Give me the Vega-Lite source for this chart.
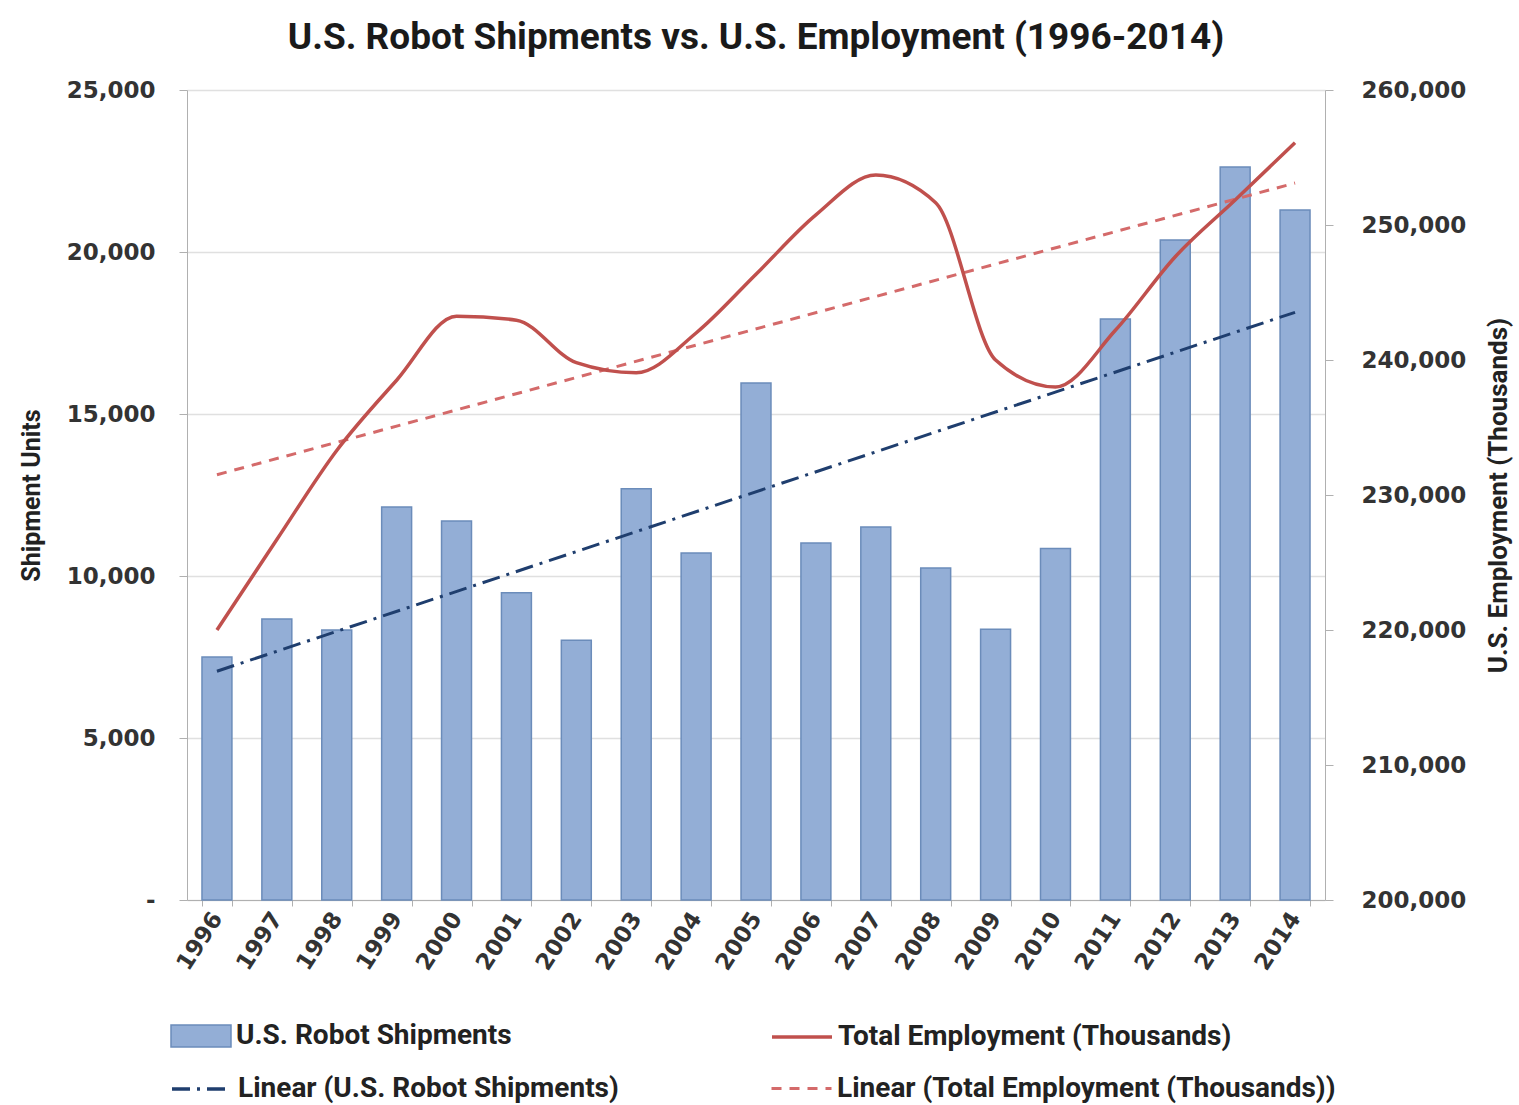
{
  "$schema": "https://vega.github.io/schema/vega-lite/v6.json",
  "width": 1138,
  "height": 810,
  "autosize": {"type": "none"},
  "padding": {"left": 187, "top": 90, "right": 194, "bottom": 205},
  "background": "white",
  "title": {
    "text": "U.S. Robot Shipments vs. U.S. Employment (1996-2014)",
    "font": "Roboto",
    "fontSize": 37,
    "fontWeight": "bold",
    "color": "#1a1a1a",
    "anchor": "middle",
    "offset": 22
  },
  "data": {
    "values": [
      {"year": 1996, "shipments": 7500, "employment": 220000},
      {"year": 1997, "shipments": 8670, "employment": 226700},
      {"year": 1998, "shipments": 8330, "employment": 233300},
      {"year": 1999, "shipments": 12130, "employment": 238500},
      {"year": 2000, "shipments": 11700, "employment": 243250},
      {"year": 2001, "shipments": 9480, "employment": 242950},
      {"year": 2002, "shipments": 8020, "employment": 239800},
      {"year": 2003, "shipments": 12690, "employment": 239050},
      {"year": 2004, "shipments": 10710, "employment": 242000},
      {"year": 2005, "shipments": 15960, "employment": 246350},
      {"year": 2006, "shipments": 11020, "employment": 250750},
      {"year": 2007, "shipments": 11510, "employment": 253700},
      {"year": 2008, "shipments": 10250, "employment": 251650},
      {"year": 2009, "shipments": 8360, "employment": 240000},
      {"year": 2010, "shipments": 10850, "employment": 238000},
      {"year": 2011, "shipments": 17930, "employment": 242200},
      {"year": 2012, "shipments": 20370, "employment": 247650},
      {"year": 2013, "shipments": 22620, "employment": 251850},
      {"year": 2014, "shipments": 21300, "employment": 256100}
    ]
  },
  "encoding": {
    "x": {
      "field": "year",
      "type": "ordinal",
      "scale": {"paddingInner": 0.5, "paddingOuter": 0.25},
      "axis": {
        "title": null,
        "labelAngle": -57,
        "labelAlign": "right",
        "labelBaseline": "middle",
        "labelFont": "DejaVu Sans",
        "labelFontSize": 23,
        "labelFontWeight": "bold",
        "labelColor": "#333333",
        "labelPadding": 8,
        "tickBand": "extent",
        "tickSize": 6,
        "tickColor": "#B0B0B0",
        "domainColor": "#B0B0B0",
        "grid": false
      }
    }
  },
  "layer": [
    {
      "layer": [
        {
          "mark": {"type": "bar", "stroke": "#6B8CBA", "strokeWidth": 1.5},
          "encoding": {
            "y": {
              "field": "shipments",
              "type": "quantitative",
              "scale": {"domain": [0, 25000], "nice": false},
              "axis": {
                "title": "Shipment Units",
                "orient": "left",
                "values": [0, 5000, 10000, 15000, 20000, 25000],
                "labelExpr": "datum.value === 0 ? '-' : format(datum.value, ',')",
                "grid": true,
                "gridColor": "#E0E0E0",
                "gridWidth": 1.5,
                "domainColor": "#B0B0B0",
                "tickColor": "#B0B0B0",
                "tickSize": 8,
                "labelPadding": 24,
                "labelFont": "DejaVu Sans",
                "labelFontSize": 23,
                "labelFontWeight": "bold",
                "labelColor": "#333333",
                "titleFont": "Roboto",
                "titleFontSize": 25,
                "titleFontWeight": "bold",
                "titleColor": "#222222",
                "titlePadding": 22
              }
            },
            "fill": {
              "datum": "U.S. Robot Shipments",
              "scale": {"range": ["#93AED6"]},
              "legend": {
                "title": null,
                "orient": "none",
                "legendX": -17,
                "legendY": 915,
                "symbolType": "M-1,-0.37H1V0.37H-1Z",
                "symbolSize": 3600,
                "symbolStrokeColor": "#6B8CBA",
                "symbolStrokeWidth": 1.5,
                "symbolOpacity": 1,
                "labelFont": "Roboto",
                "labelFontSize": 28,
                "labelFontWeight": "bold",
                "labelColor": "#222222",
                "labelLimit": 0,
                "labelOffset": 4
              }
            }
          }
        },
        {
          "transform": [{"regression": "shipments", "on": "year"}],
          "mark": {"type": "line", "color": "#1F3E6E", "strokeWidth": 3},
          "encoding": {
            "y": {"field": "shipments", "type": "quantitative", "scale": {"domain": [0, 25000], "nice": false}},
            "strokeDash": {
              "datum": "Linear (U.S. Robot Shipments)",
              "scale": {"range": [[18, 7, 3, 7]]},
              "legend": {
                "title": null,
                "orient": "none",
                "legendX": -17,
                "legendY": 967,
                "symbolType": "stroke",
                "symbolSize": 3600,
                "symbolStrokeColor": "#1F3E6E",
                "symbolStrokeWidth": 3.5,
                "labelFont": "Roboto",
                "labelFontSize": 28,
                "labelFontWeight": "bold",
                "labelColor": "#222222",
                "labelLimit": 0,
                "labelOffset": 4
              }
            }
          }
        }
      ]
    },
    {
      "layer": [
        {
          "transform": [{"regression": "employment", "on": "year"}],
          "mark": {"type": "line", "color": "#D46A6A", "strokeDash": [10, 8]},
          "encoding": {
            "y": {
              "field": "employment",
              "type": "quantitative",
              "scale": {"domain": [200000, 260000], "nice": false},
              "axis": {
                "title": "U.S. Employment (Thousands)",
                "orient": "right",
                "values": [200000, 210000, 220000, 230000, 240000, 250000, 260000],
                "format": ",d",
                "grid": false,
                "domainColor": "#B0B0B0",
                "tickColor": "#B0B0B0",
                "tickSize": 8,
                "labelPadding": 28,
                "labelFont": "DejaVu Sans",
                "labelFontSize": 23,
                "labelFontWeight": "bold",
                "labelColor": "#333333",
                "titleFont": "Roboto",
                "titleFontSize": 26,
                "titleFontWeight": "bold",
                "titleColor": "#222222",
                "titleAngle": 270,
                "titlePadding": 46
              }
            },
            "strokeWidth": {
              "datum": "Linear (Total Employment (Thousands))",
              "type": "ordinal",
              "scale": {"range": [3, 3]},
              "legend": {
                "title": null,
                "orient": "none",
                "legendX": 583,
                "legendY": 967,
                "symbolType": "stroke",
                "symbolSize": 3600,
                "symbolStrokeColor": "#D46A6A",
                "symbolDash": [10, 8],
                "labelFont": "Roboto",
                "labelFontSize": 28,
                "labelFontWeight": "bold",
                "labelColor": "#222222",
                "labelLimit": 0,
                "labelOffset": 4
              }
            }
          }
        },
        {
          "mark": {"type": "line", "interpolate": "monotone", "strokeWidth": 3.5},
          "encoding": {
            "y": {"field": "employment", "type": "quantitative", "scale": {"domain": [200000, 260000], "nice": false}},
            "stroke": {
              "datum": "Total Employment (Thousands)",
              "scale": {"range": ["#C0504D"]},
              "legend": {
                "title": null,
                "orient": "none",
                "legendX": 583,
                "legendY": 915,
                "symbolType": "stroke",
                "symbolSize": 3600,
                "symbolStrokeWidth": 3.5,
                "labelFont": "Roboto",
                "labelFontSize": 28,
                "labelFontWeight": "bold",
                "labelColor": "#222222",
                "labelLimit": 0,
                "labelOffset": 4
              }
            }
          }
        }
      ]
    }
  ],
  "resolve": {"scale": {"y": "independent"}},
  "config": {
    "font": "DejaVu Sans",
    "view": {"stroke": null}
  }
}
